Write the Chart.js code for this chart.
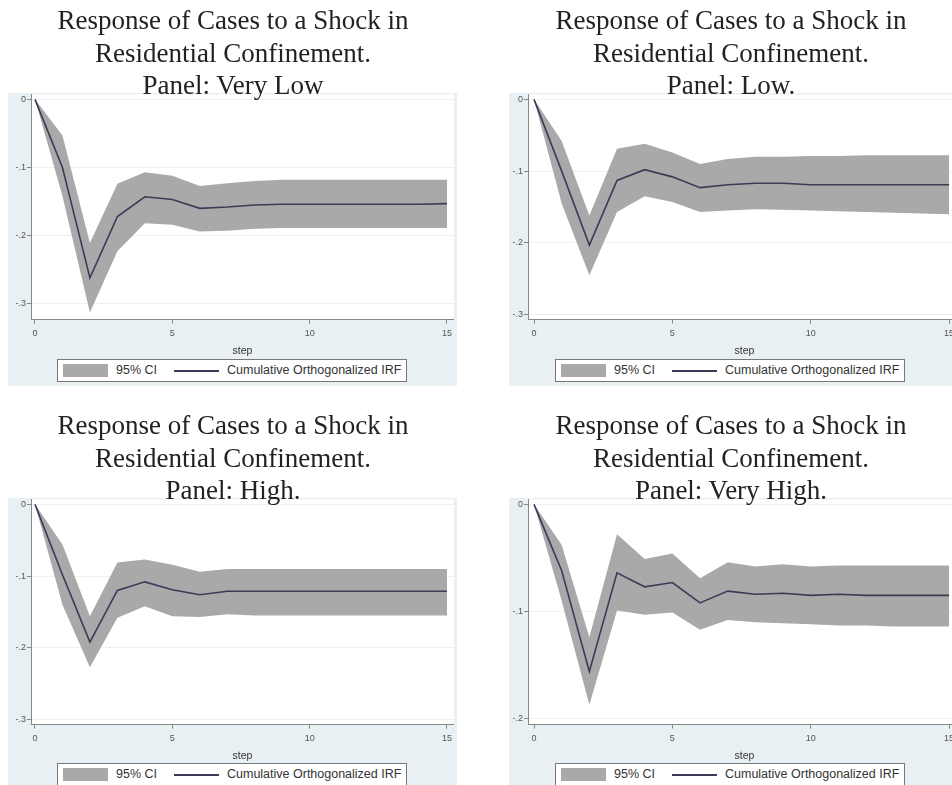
<!DOCTYPE html>
<html>
<head>
<meta charset="utf-8">
<script src="https://cdn.jsdelivr.net/npm/chart.js@4.4.1/dist/chart.umd.min.js"></script>
<style>
body { margin:0; width:952px; height:785px; overflow:hidden; background:#fff; position:relative; }
.ttl { position:absolute; z-index:3; width:476px; text-align:center; font-family:"Liberation Serif",serif; font-size:27px; line-height:32.5px; color:#222; }
.bg { position:absolute; z-index:0; background:#e8f0f3; }
.cv { position:absolute; z-index:1; }
.leg { position:absolute; z-index:2; width:348px; height:21px; border:1px solid #777; background:#fff; font-family:"Liberation Sans",Arial,sans-serif; font-size:12.5px; color:#333; }
.leg .patch { position:absolute; left:5px; top:4px; width:45px; height:13px; background:#a9a9a9; }
.leg .ln { position:absolute; left:116px; top:10px; width:45px; height:1.5px; background:#3b3b58; }
.leg .t1 { position:absolute; left:58px; top:3px; }
.leg .t2 { position:absolute; left:169px; top:3px; }
</style>
</head>
<body>
<script>
// steps of the impulse response
var steps = [0,1,2,3,4,5,6,7,8,9,10,11,12,13,14,15];
var xTicks = [0,5,10,15];
var yTicks3 = [0,-0.1,-0.2,-0.3];
var yTicks2 = [0,-0.1,-0.2];

var veryLowIrf = [0,-0.100,-0.262,-0.172,-0.143,-0.147,-0.160,-0.158,-0.155,-0.154,-0.154,-0.154,-0.154,-0.154,-0.154,-0.153];
var veryLowHi  = [0,-0.053,-0.211,-0.124,-0.107,-0.112,-0.127,-0.123,-0.120,-0.118,-0.118,-0.118,-0.118,-0.118,-0.118,-0.118];
var veryLowLo  = [0,-0.142,-0.313,-0.223,-0.182,-0.184,-0.194,-0.193,-0.190,-0.189,-0.189,-0.189,-0.189,-0.189,-0.189,-0.189];

var lowIrf = [0,-0.100,-0.203,-0.113,-0.098,-0.108,-0.123,-0.119,-0.117,-0.117,-0.119,-0.119,-0.119,-0.119,-0.119,-0.119];
var lowHi  = [0,-0.058,-0.162,-0.069,-0.062,-0.074,-0.090,-0.083,-0.080,-0.080,-0.079,-0.079,-0.078,-0.078,-0.078,-0.078];
var lowLo  = [0,-0.145,-0.245,-0.157,-0.135,-0.143,-0.157,-0.155,-0.153,-0.154,-0.155,-0.156,-0.157,-0.158,-0.159,-0.160];

var highIrf = [0,-0.098,-0.192,-0.120,-0.108,-0.119,-0.126,-0.121,-0.121,-0.121,-0.121,-0.121,-0.121,-0.121,-0.121,-0.121];
var highHi  = [0,-0.056,-0.156,-0.081,-0.077,-0.084,-0.094,-0.090,-0.090,-0.090,-0.090,-0.090,-0.090,-0.090,-0.090,-0.090];
var highLo  = [0,-0.140,-0.227,-0.158,-0.142,-0.156,-0.157,-0.153,-0.155,-0.155,-0.155,-0.155,-0.155,-0.155,-0.155,-0.155];

var veryHighIrf = [0,-0.062,-0.156,-0.064,-0.077,-0.073,-0.092,-0.081,-0.084,-0.083,-0.085,-0.084,-0.085,-0.085,-0.085,-0.085];
var veryHighHi  = [0,-0.038,-0.124,-0.028,-0.051,-0.046,-0.069,-0.054,-0.058,-0.056,-0.058,-0.057,-0.057,-0.057,-0.057,-0.057];
var veryHighLo  = [0,-0.090,-0.187,-0.099,-0.103,-0.101,-0.117,-0.108,-0.110,-0.111,-0.112,-0.113,-0.113,-0.114,-0.114,-0.114];

var titleLines = ['Response of Cases to a Shock in', 'Residential Confinement.'];
var panelNames = ['Panel: Very Low', 'Panel: Low.', 'Panel: High.', 'Panel: Very High.'];

// layout of each panel on the page
var panels = [
    {name:panelNames[0], irf:veryLowIrf, hi:veryLowHi, lo:veryLowLo, yt:yTicks3,
     tx:233, ty:4, cx:8, cy:88, cw:449, ch:298, yw:23, xmin:-0.145, xmax:15.25, ymin:-0.3233, ymax:0.0073, lx:57, ly:359},
    {name:panelNames[1], irf:lowIrf, hi:lowHi, lo:lowLo, yt:yTicks3,
     tx:731, ty:4, cx:509, cy:88, cw:452, ch:298, yw:19, xmin:-0.217, xmax:15.43, ymin:-0.3069, ymax:0.0069, lx:555, ly:359},
    {name:panelNames[2], irf:highIrf, hi:highHi, lo:highLo, yt:yTicks3,
     tx:233, ty:409, cx:8, cy:493, cw:449, ch:298, yw:23, xmin:-0.145, xmax:15.25, ymin:-0.3069, ymax:0.0069, lx:57, ly:763},
    {name:panelNames[3], irf:veryHighIrf, hi:veryHighHi, lo:veryHighLo, yt:yTicks2,
     tx:731, ty:409, cx:509, cy:493, cw:452, ch:298, yw:19, xmin:-0.217, xmax:15.43, ymin:-0.2056, ymax:0.0046, lx:555, ly:763}
];

function pts(arr) {
    return steps.map((s,i) => ({x:s, y:arr[i]}));
}

function fmtY(v) {
    if (v === 0) return '0';
    return v.toFixed(1).replace('0.', '.');
}

var plotBg = {
    id:'plotBg',
    beforeDraw: function(chart) {
        var a = chart.chartArea, ctx = chart.ctx;
        ctx.save();
        ctx.fillStyle = '#ffffff';
        ctx.fillRect(a.left, a.top, a.right - a.left, a.bottom - a.top);
        ctx.restore();
    }
};

function addDiv(cls, x, y, w, h) {
    var d = document.createElement('div');
    d.className = cls;
    d.style.left = x + 'px';
    d.style.top = y + 'px';
    if (w) d.style.width = w + 'px';
    if (h) d.style.height = h + 'px';
    document.body.appendChild(d);
    return d;
}

panels.forEach(function(p, k) {
    var t = addDiv('ttl', p.tx - 238, p.ty);
    t.innerHTML = titleLines[0] + '<br>' + titleLines[1] + '<br>' + p.name;

    addDiv('bg', p.cx, p.cy + 5, p.cw, p.ch - 5);

    var c = document.createElement('canvas');
    c.className = 'cv';
    c.style.left = p.cx + 'px';
    c.style.top = p.cy + 'px';
    c.style.width = p.cw + 'px';
    c.style.height = p.ch + 'px';
    c.width = p.cw;
    c.height = p.ch;
    document.body.appendChild(c);

    var lg = addDiv('leg', p.lx, p.ly);
    lg.innerHTML = '<span class="patch"></span><span class="t1">95% CI</span>' +
        '<span class="ln"></span><span class="t2">Cumulative Orthogonalized IRF</span>';

    new Chart(c.getContext('2d'), {
        type: 'line',
        data: {
            datasets: [
                {label:'Cumulative Orthogonalized IRF', data:pts(p.irf), fill:false, borderColor:'#3b3b58', borderWidth:1.6, pointRadius:0, tension:0},
                {label:'95% CI', data:pts(p.hi), fill:'+1', backgroundColor:'#a9a9a9', borderWidth:0, pointRadius:0, tension:0},
                {label:'lower', data:pts(p.lo), fill:false, borderWidth:0, pointRadius:0, tension:0}
            ]
        },
        options: {
            responsive: false,
            animation: false,
            events: [],
            layout: {padding: {top:0, right:0, left:0, bottom:25}},
            plugins: {legend:{display:false}, tooltip:{enabled:false}},
            scales: {
                x: {
                    type: 'linear', min: p.xmin, max: p.xmax,
                    afterBuildTicks: function(s) { s.ticks = xTicks.map(v => ({value:v})); },
                    ticks: {font:{family:'Liberation Sans', size:9}, color:'#555', padding:5, maxRotation:0,
                            callback: v => String(v)},
                    grid: {drawOnChartArea:false, tickLength:4, tickColor:'#888'},
                    border: {color:'#888', width:1},
                    title: {display:true, text:'step', font:{family:'Liberation Sans', size:10.5}, color:'#333', padding:{top:0, bottom:4}}
                },
                y: {
                    type: 'linear', min: p.ymin, max: p.ymax,
                    afterBuildTicks: function(s) { s.ticks = p.yt.map(v => ({value:v})); },
                    afterFit: function(s) { s.width = p.yw; },
                    ticks: {font:{family:'Liberation Sans', size:9}, color:'#555', padding:1, callback: fmtY},
                    grid: {color:'#edf1f3', tickLength:4, tickColor:'#888'},
                    border: {color:'#888', width:1}
                }
            }
        },
        plugins: [plotBg]
    });
});
</script>
</body>
</html>
